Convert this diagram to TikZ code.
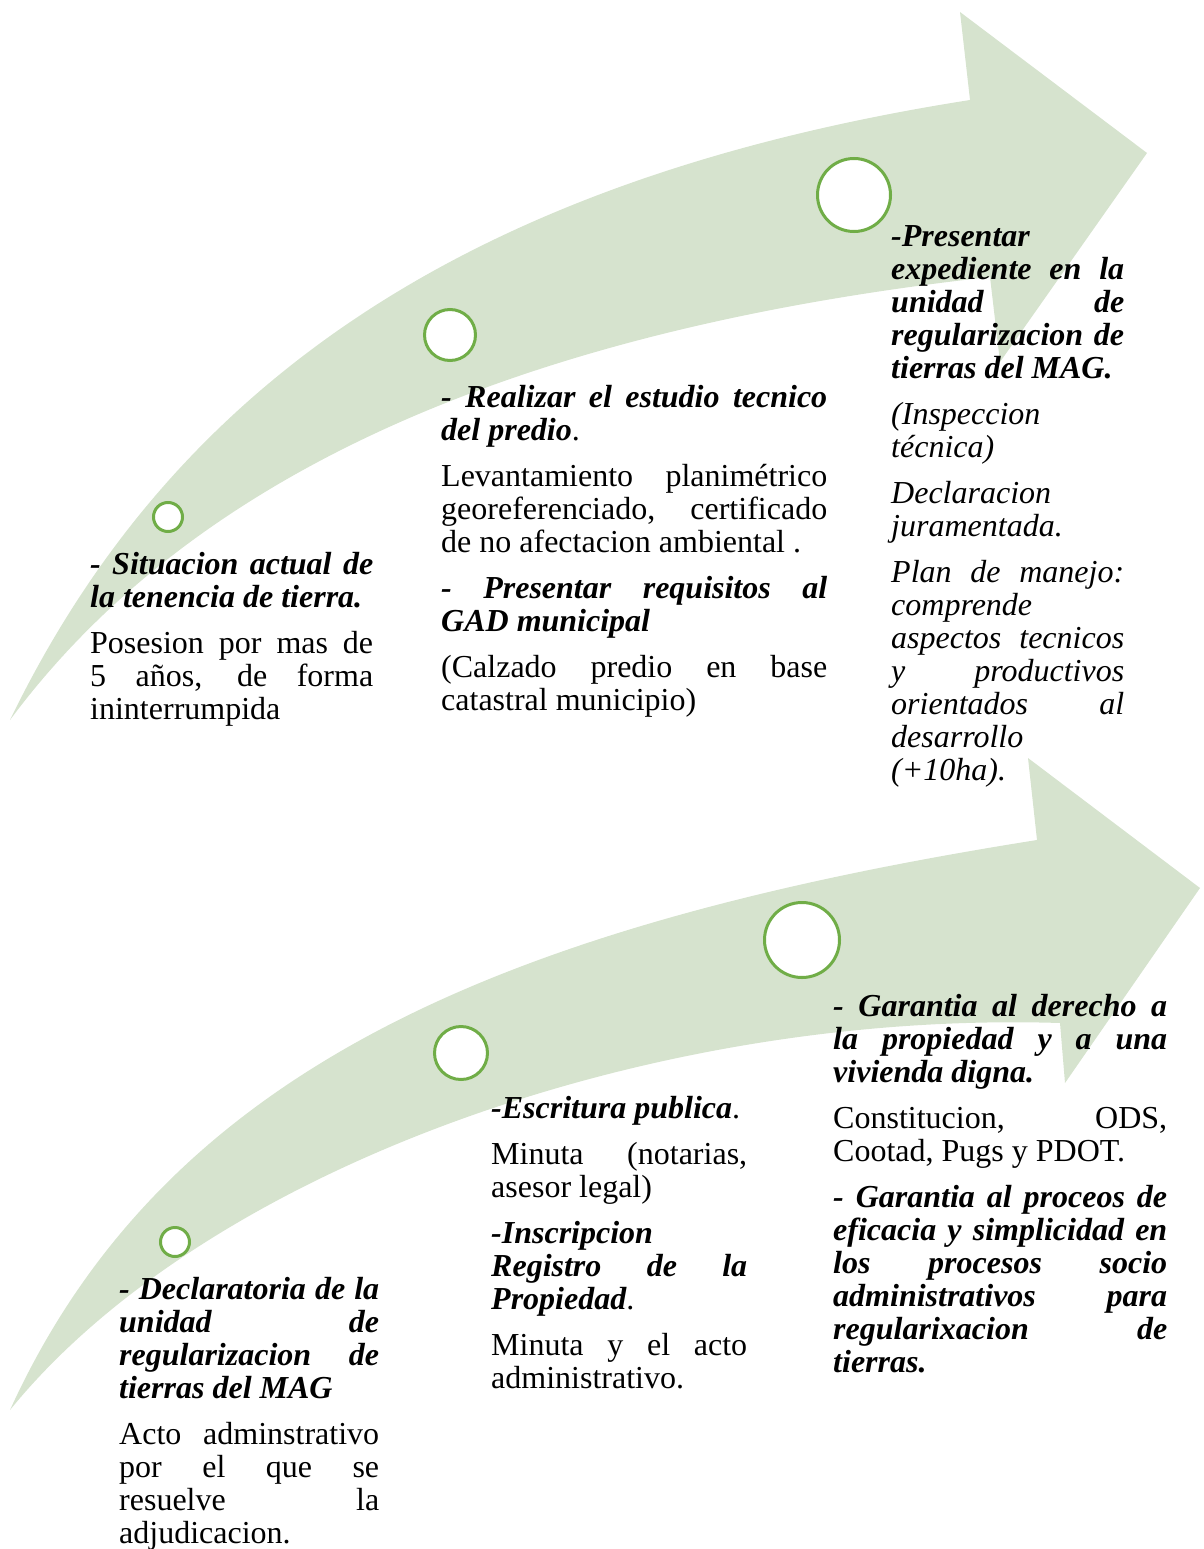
\documentclass[tikz,border=0pt]{standalone}
\usepackage{fontspec}
\setmainfont{Liberation Serif}
\definecolor{arrowgreen}{RGB}{214,227,206}
\definecolor{ringgreen}{RGB}{112,173,71}
\tolerance=10000 \hbadness=10000 \hyphenpenalty=10000 \exhyphenpenalty=10000
\newcommand\bhead[1]{{\bfseries\itshape #1}}
\newcommand\blockgap{\par\vspace{13pt}}
\newcommand\blocksetup{\fontsize{32}{33}\selectfont\tolerance=10000\hyphenpenalty=10000\exhyphenpenalty=10000\parskip=0pt\parindent=0pt\relax}
\begin{document}
\begin{tikzpicture}[x=1pt,y=-1pt,
  arrowshape/.style={fill=arrowgreen, draw=none},
  ring/.style={circle, draw=ringgreen, line width=3pt, fill=white, inner sep=0pt},
  txt/.style={anchor=base west, inner sep=0pt, align=justify, font=\fontsize{32}{33}\selectfont}]
\useasboundingbox (0,0) rectangle (1203,1549);

% upper arrow
\path[arrowshape] (10,720) .. controls (170,390) and (460,180) .. (970,100)
  -- (960,12) -- (1147,153) -- (1000,362) -- (990,277)
  .. controls (515,330) and (192,475) .. (10,720) -- cycle;
% lower arrow
\path[arrowshape] (10,1410) .. controls (165,1070) and (500,925) .. (1037,840)
  -- (1028,758) -- (1200,888) -- (1065,1083) -- (1060,1023)
  .. controls (650,1010) and (205,1170) .. (10,1410) -- cycle;

% rings
\node[ring, minimum size=29pt] (r1) at (168,517) {};
\node[ring, minimum size=51pt] (r2) at (450,335) {};
\node[ring, minimum size=73pt] (r3) at (854,195) {};
\node[ring, minimum size=29pt] (r4) at (175,1242) {};
\node[ring, minimum size=53pt] (r5) at (461,1053) {};
\node[ring, minimum size=75pt] (r6) at (802,940) {};

% text blocks
\node[txt, text width=283pt] (b1) at (90,574) {\blocksetup
\bhead{- Situacion actual de\linebreak la tenencia de tierra.}\blockgap
Posesion por mas de\linebreak 5 años, de forma\linebreak ininterrumpida};

\node[txt, text width=386pt] (b2) at (441,407) {\blocksetup
\bhead{- Realizar el estudio tecnico\linebreak del predio}.\blockgap
Levantamiento planimétrico\linebreak georeferenciado, certificado\linebreak de no afectacion ambiental .\blockgap
\bhead{- Presentar requisitos al\linebreak GAD municipal}\blockgap
(Calzado predio en base\linebreak catastral municipio)};

\node[txt, text width=233pt] (b3) at (891,246) {\blocksetup
\bhead{-Presentar\linebreak expediente en la\linebreak unidad de\linebreak regularizacion de\linebreak tierras del MAG.}\blockgap
\textit{(Inspeccion\linebreak técnica)}\blockgap
\textit{Declaracion\linebreak juramentada.}\blockgap
\textit{Plan de manejo:\linebreak comprende\linebreak aspectos tecnicos\linebreak y productivos\linebreak orientados al\linebreak desarrollo\linebreak (+10ha).}};

\node[txt, text width=260pt] (b4) at (119,1299) {\blocksetup
\bhead{- Declaratoria de la\linebreak unidad de\linebreak regularizacion de\linebreak tierras del MAG}\blockgap
Acto adminstrativo\linebreak por el que se\linebreak resuelve la\linebreak adjudicacion.};

\node[txt, text width=256pt] (b5) at (491,1118) {\blocksetup
\bhead{-Escritura publica}.\blockgap
Minuta (notarias,\linebreak asesor legal)\blockgap
\bhead{-Inscripcion\linebreak Registro de la\linebreak Propiedad}.\blockgap
Minuta y el acto\linebreak administrativo.};

\node[txt, text width=334pt] (b6) at (833,1016) {\blocksetup
\bhead{- Garantia al derecho a\linebreak la propiedad y a una\linebreak vivienda digna.}\blockgap
Constitucion, ODS,\linebreak Cootad, Pugs y PDOT.\blockgap
\bhead{- Garantia al proceos de\linebreak eficacia y simplicidad en\linebreak los procesos socio\linebreak administrativos para\linebreak regularixacion de\linebreak tierras.}};
\end{tikzpicture}
\end{document}
